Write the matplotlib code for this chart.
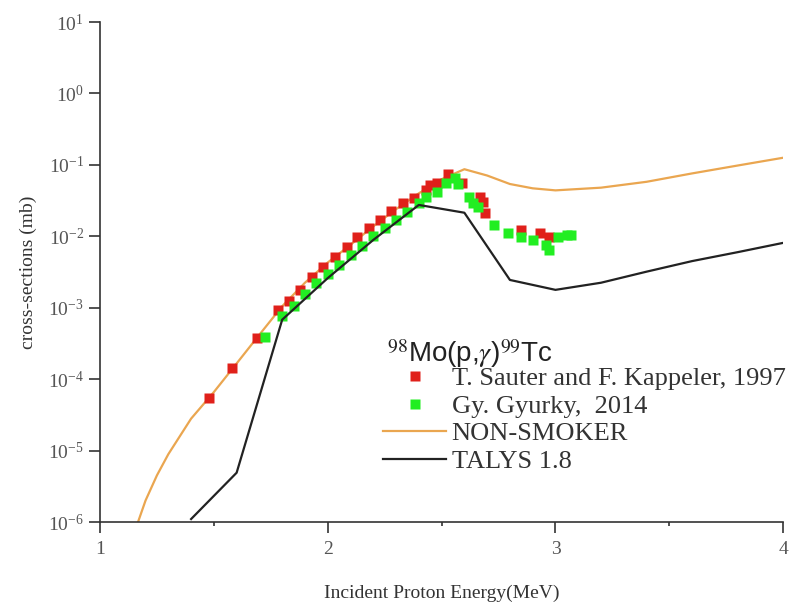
import matplotlib.pyplot as plt
from matplotlib.ticker import LogLocator, NullLocator, MultipleLocator

plt.rcParams['font.family'] = 'Liberation Serif'
plt.rcParams['mathtext.fontset'] = 'stix'

# T. Sauter and F. Kappeler, 1997
sauter_e = [1.48, 1.58, 1.69, 1.78, 1.83, 1.88, 1.93, 1.98, 2.03, 2.085, 2.13, 2.18,
            2.23, 2.28, 2.33, 2.38, 2.43, 2.45, 2.48, 2.53, 2.59, 2.67, 2.68, 2.69,
            2.85, 2.93, 2.97]
sauter_xs = [5.5e-5, 1.45e-4, 3.8e-4, 9.3e-4, 1.23e-3, 1.78e-3, 2.7e-3, 3.7e-3, 5.1e-3,
             7.1e-3, 9.8e-3, 1.32e-2, 1.70e-2, 2.24e-2, 2.95e-2, 3.47e-2, 4.47e-2,
             5.25e-2, 5.6e-2, 7.4e-2, 5.6e-2, 3.55e-2, 3.0e-2, 2.14e-2, 1.23e-2,
             1.12e-2, 9.8e-3]

# Gy. Gyurky, 2014
gyurky_e = [1.725, 1.80, 1.85, 1.90, 1.95, 2.00, 2.05, 2.10, 2.15, 2.20, 2.25, 2.30,
            2.35, 2.40, 2.43, 2.48, 2.52, 2.56, 2.57, 2.62, 2.64, 2.66, 2.73, 2.79,
            2.85, 2.90, 2.96, 2.97, 3.01, 3.05, 3.07]
gyurky_xs = [3.9e-4, 7.6e-4, 1.05e-3, 1.58e-3, 2.19e-3, 3.0e-3, 4.0e-3, 5.5e-3, 7.4e-3,
             1.0e-2, 1.32e-2, 1.70e-2, 2.19e-2, 2.9e-2, 3.55e-2, 4.2e-2, 5.6e-2,
             6.6e-2, 5.4e-2, 3.55e-2, 2.95e-2, 2.57e-2, 1.45e-2, 1.12e-2, 9.8e-3,
             8.9e-3, 7.6e-3, 6.5e-3, 9.8e-3, 1.05e-2, 1.05e-2]

# NON-SMOKER
nonsmoker_e = [1.10, 1.167, 1.2, 1.25, 1.3, 1.4, 1.5, 1.6, 1.7, 1.8, 1.9, 2.0, 2.1, 2.2,
               2.3, 2.4, 2.5, 2.6, 2.7, 2.8, 2.9, 3.0, 3.2, 3.4, 3.6, 3.8, 4.0]
nonsmoker_xs = [2.5e-7, 1.0e-6, 2.0e-6, 4.5e-6, 8.9e-6, 2.8e-5, 6.6e-5, 1.66e-4, 4.2e-4,
                1.05e-3, 2.24e-3, 4.3e-3, 7.6e-3, 1.38e-2, 2.4e-2, 4.0e-2, 6.3e-2,
                8.7e-2, 7.1e-2, 5.4e-2, 4.7e-2, 4.4e-2, 4.8e-2, 5.8e-2, 7.6e-2,
                9.8e-2, 1.26e-1]

# TALYS 1.8
talys_e = [1.4, 1.6, 1.8, 2.0, 2.2, 2.4, 2.6, 2.8, 3.0, 3.2, 3.4, 3.6, 3.8, 4.0]
talys_xs = [1.1e-6, 4.9e-6, 6.8e-4, 2.6e-3, 8.9e-3, 2.75e-2, 2.14e-2, 2.45e-3, 1.78e-3,
            2.24e-3, 3.2e-3, 4.5e-3, 6.0e-3, 8.1e-3]

fig = plt.figure(figsize=(8, 6.06), dpi=100)
ax = fig.add_axes([0.125, 0.1386, 0.854, 0.825])

ax.plot(nonsmoker_e, nonsmoker_xs, color='#eaa650', lw=1.6, zorder=2, label='NON-SMOKER')
ax.plot(sauter_e, sauter_xs, 's', color='#e0201a', ms=6.5, mec='none', zorder=3,
        label='T. Sauter and F. Kappeler, 1997')
ax.plot(gyurky_e, gyurky_xs, 's', color='#22ee22', ms=6.5, mec='none', zorder=4,
        label='Gy. Gyurky,  2014')
ax.plot(talys_e, talys_xs, color='#222222', lw=1.6, zorder=5, label='TALYS 1.8')

ax.set_yscale('log')
ax.set_xlim(1, 4)
ax.set_ylim(1e-6, 10)
ax.yaxis.set_major_locator(LogLocator(base=10, numticks=10))
ax.yaxis.set_minor_locator(NullLocator())
ax.xaxis.set_major_locator(MultipleLocator(1))
ax.xaxis.set_minor_locator(MultipleLocator(0.5))

for side in ['top', 'right']:
    ax.spines[side].set_visible(False)
for side in ['left', 'bottom']:
    ax.spines[side].set_linewidth(1.2)
    ax.spines[side].set_color('#333333')

ax.tick_params(which='major', direction='out', length=8, width=1.2, color='#333333',
               labelsize=14, labelcolor='#555555')
ax.tick_params(axis='x', which='minor', direction='out', length=3, width=1.2, color='#333333')
ax.tick_params(axis='x', pad=6)

ax.set_xlabel('Incident Proton Energy(MeV)', fontsize=14, color='#333333', labelpad=19)
ax.set_ylabel('cross-sections (mb)', fontsize=14, color='#333333', labelpad=8)

# legend title as separate text so it sits close to the entries
fig.text(387 / 800, 1 - 362 / 606, r'$^{98}$Mo(p,$\gamma$)$^{99}$Tc',
         family='Liberation Sans', fontsize=20, color='#222222', ha='left', va='baseline')

handles, labels = ax.get_legend_handles_labels()
order = [1, 2, 0, 3]
leg = ax.legend([handles[i] for i in order], [labels[i] for i in order],
                loc='upper left', bbox_to_anchor=(383 / 800, 1 - 367 / 606),
                bbox_transform=fig.transFigure, frameon=False, fontsize=19,
                numpoints=1, handlelength=2.4, handletextpad=0.2, labelspacing=0.15,
                borderpad=0, borderaxespad=0)
for t in leg.get_texts():
    t.set_color('#333333')

fig.savefig('out.png', dpi=100)
